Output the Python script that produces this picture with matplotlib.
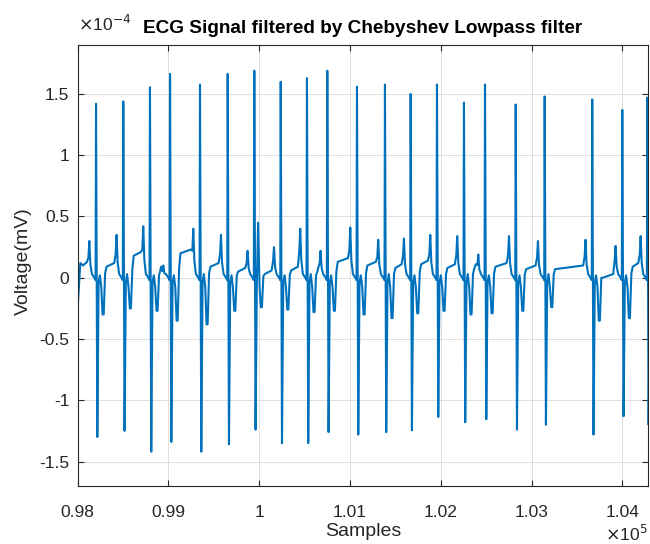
import matplotlib
matplotlib.use("Agg")
import matplotlib.pyplot as plt
from matplotlib.ticker import FixedLocator

# ---------------- data (voltages in units of 1e-4 mV) ----------------
r_pos = [98203, 98503, 98797, 99018, 99348, 99653, 99946, 100237, 100526, 100750,
         101077, 101385, 101668, 101958, 102255, 102487, 102825, 103144, 103668,
         103999, 104275]
r_amp = [1.42, 1.44, 1.555, 1.664, 1.577, 1.664, 1.69, 1.60, 1.63, 1.69,
         1.56, 1.577, 1.50, 1.577, 1.43, 1.577, 1.414, 1.48, 1.455, 1.37, 1.47]
s_amp = [-1.30, -1.25, -1.42, -1.34, -1.42, -1.36, -1.24, -1.35, -1.35, -1.26,
         -1.28, -1.26, -1.245, -1.136, -1.18, -1.155, -1.24, -1.20, -1.28, -1.13, -1.20]
p_amp = [0.30, 0.35, 0.42, 0.10, 0.40, 0.35, 0.22, 0.25, 0.40, 0.22,
         0.41, 0.31, 0.32, 0.35, 0.34, 0.19, 0.34, 0.30, 0.31, 0.26, 0.34]
t_dip = [-0.30, -0.25, -0.27, -0.35, -0.38, -0.27, -0.24, -0.26, -0.28, -0.27,
         -0.30, -0.33, -0.29, -0.27, -0.30, -0.29, -0.27, -0.24, -0.35, -0.33, -0.30]
notch = [0.02, 0.03, 0.02, 0.02, 0.03, 0.02, 0.45, 0.02, 0.03, 0.02,
         0.02, 0.03, 0.02, 0.02, 0.03, 0.02, 0.02, 0.03, 0.02, 0.02, 0.02]
base_after = [0.09, 0.18, 0.06, 0.20, 0.09, 0.05, 0.03, 0.06, 0.05, 0.13,
              0.10, 0.08, 0.11, 0.08, 0.08, 0.09, 0.07, 0.07, 0.00, 0.09, 0.10]
start_pos = [98000, 98030, 98060]
start_val = [-0.25, 0.12, 0.10]

x_ticks = [98000, 99000, 100000, 101000, 102000, 103000, 104000]
x_ticklabels = ["0.98", "0.99", "1", "1.01", "1.02", "1.03", "1.04"]
y_ticks = [-1.5, -1.0, -0.5, 0.0, 0.5, 1.0, 1.5]
y_ticklabels = ["-1.5", "-1", "-0.5", "0", "0.5", "1", "1.5"]

# ---------------- assemble the polyline from the beat features ----------------
xs = list(start_pos)
ys = [v * 1e-4 for v in start_val]
prev_base = start_val[-1]
for i, r in enumerate(r_pos):
    pts = [
        (r - 100, prev_base + 0.03),
        (r - 84, p_amp[i] * 0.55),
        (r - 74, p_amp[i]),
        (r - 62, p_amp[i] * 0.35),
        (r - 45, 0.03),
        (r - 18, 0.0),
        (r - 5, -0.02),
        (r, r_amp[i]),
        (r + 14, s_amp[i]),
        (r + 28, -0.04),
        (r + 42, notch[i]),
        (r + 58, -0.08),
        (r + 72, t_dip[i]),
        (r + 84, t_dip[i]),
        (r + 100, base_after[i] * 0.4),
        (r + 115, base_after[i]),
    ]
    for px, py in pts:
        xs.append(px)
        ys.append(py * 1e-4)
    prev_base = base_after[i]

# ---------------- figure ----------------
plt.rcParams['font.family'] = ['Liberation Sans', 'DejaVu Sans']
fig = plt.figure(figsize=(6.5, 5.44), dpi=100)
ax = fig.add_axes([0.1194, 0.1066, 0.8775, 0.8107])

ax.plot(xs, ys, color='#0072BD', lw=1.5)

ax.set_xlim(98000, 104282)
ax.set_ylim(-1.7e-4, 1.9e-4)
ax.xaxis.set_major_locator(FixedLocator(x_ticks))
ax.set_xticklabels(x_ticklabels)
ax.yaxis.set_major_locator(FixedLocator([v * 1e-4 for v in y_ticks]))
ax.set_yticklabels(y_ticklabels)

axcol = '#262626'
ax.grid(True, color='#dedede', lw=0.7)
ax.set_axisbelow(True)
for s in ax.spines.values():
    s.set_color(axcol)
    s.set_linewidth(0.8)
ax.tick_params(direction='in', top=True, right=True, length=4, width=0.8,
               colors=axcol, labelsize=12.5)
ax.tick_params(axis='x', pad=14)
ax.tick_params(axis='y', pad=6)

fig.text(0.1194 + 0.8775 / 2, 1 - 33 / 544, "ECG Signal filtered by Chebyshev Lowpass filter",
         ha='center', va='baseline', fontsize=13.7, fontweight='bold', color='black')
fig.text(78 / 650, 1 - 31 / 544, r"$\times$10$^{-4}$", ha='left', va='baseline',
         fontsize=12.5, color=axcol)
fig.text(648 / 650, 1 - 541 / 544, r"$\times$10$^{5}$", ha='right', va='baseline',
         fontsize=12.5, color=axcol)
fig.text(363 / 650, 1 - 536 / 544, "Samples", ha='center', va='baseline',
         fontsize=14, color=axcol)
fig.text(23 / 650, 1 - 261 / 544, "Voltage(mV)", ha='center', va='center',
         rotation=90, fontsize=14, color=axcol)

fig.savefig("out.png", dpi=100)
